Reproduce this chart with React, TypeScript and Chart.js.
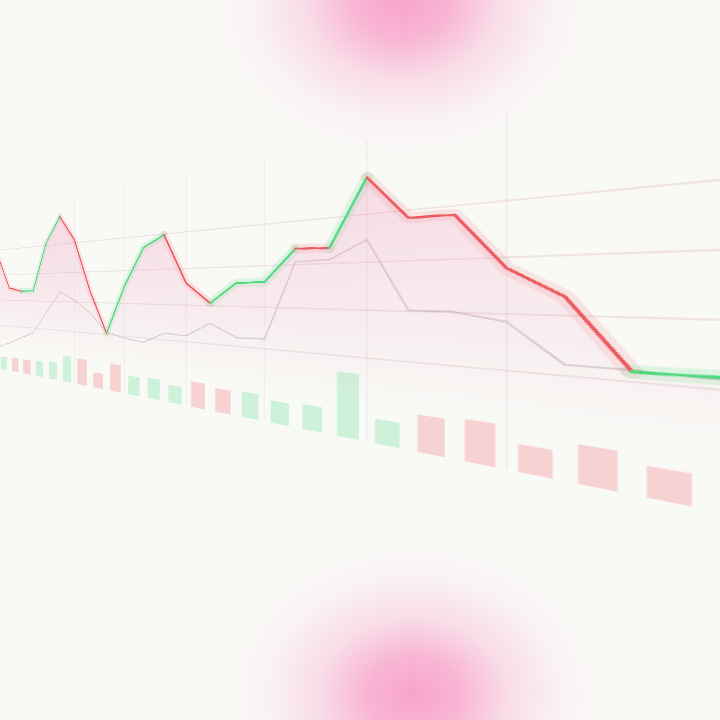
import React, { useEffect, useRef } from 'react';
import { Chart, registerables } from 'chart.js';

Chart.register(...registerables);

// ---- data ----
const pointIndex = [0, 1, 2, 3, 4, 5, 6, 7, 8, 9, 10, 11, 12, 13, 14, 15, 16, 17, 18, 19, 20, 21, 22, 23, 24, 25];
const priceValues = [127.2, 114.8, 113.6, 113.7, 130.9, 139.6, 131.0, 113.8, 100.4, 115.3, 126.6, 129.8, 116.0, 110.7, 115.9, 116.1, 123.7, 123.4, 137.7, 128.5, 128.3, 118.1, 113.1, 101.6, 101.7, 101.9];
const averageValues = [91.2, 93.3, 95.8, 98.2, 105.8, 113.4, 110.7, 106.6, 100.8, 99.4, 98.7, 101.8, 101.7, 105.4, 102.2, 102.3, 120.7, 120.8, 124.7, 110.2, 110.1, 108.6, 101.8, 101.8, 101.5, 101.4];
const volumeSlots = [0.5, 1.5, 2.5, 3.5, 4.5, 5.5, 6.5, 7.5, 8.5, 9.5, 10.5, 11.5, 12.5, 13.5, 14.5, 15.5, 16.5, 17.5, 18.5, 19.5, 20.5, 21.5, 22.5, 23.5];
const volumeValues = [5.0, 5.3, 5.3, 5.7, 6.1, 8.9, 8.6, 4.8, 8.5, 5.7, 6.0, 5.0, 6.9, 6.1, 6.3, 5.3, 5.7, 14.0, 5.1, 7.3, 7.9, 4.9, 6.5, 4.9];
const volumeUp = [true, false, false, true, true, true, false, false, false, true, true, true, false, false, true, true, true, true, true, false, false, false, false, false];
const xGridTicks = [0, 3, 6, 9, 12, 15, 18, 21];
const yGridTicks = [100, 110, 120, 130];

// ---- style / layout ----
const GREEN = '#4fd87e';
const RED = '#ec5960';
const GREEN_GLOW = 'rgba(79,216,126,0.16)';
const RED_GLOW = 'rgba(236,89,96,0.13)';
const GREEN_BAR = 'rgba(80,220,130,0.25)';
const RED_BAR = 'rgba(240,90,95,0.24)';

const FLAT_W = 1000;
const FLAT_H = 378;
const G = 120; // flat px per grid column
const K = 2.4;
const H_TOP = -77.75;
const mA = 32.03 / G;
const mC = -1.594;
const mG = -0.08008 / G;
const mD = -23.14 / G;
const mE = 0.996 / K;
const mF = 289 + 0.996 * H_TOP;
const MATRIX = `matrix3d(${mA},${mD},0,${mG},0,${mE},0,0,0,0,1,0,${mC},${mF},0,1)`;

const BLOB_STOPS =
  'rgba(248,163,202,1) 0%, rgba(248,172,207,0.88) 22%, rgba(249,196,220,0.55) 45%, rgba(250,222,233,0.25) 70%, rgba(249,242,243,0.06) 88%, rgba(249,249,246,0) 100%';
const BACKGROUND = [
  `radial-gradient(ellipse 215px 175px at 402px 0px, ${BLOB_STOPS})`,
  `radial-gradient(ellipse 210px 170px at 413px 695px, ${BLOB_STOPS})`,
  '#f9f9f6',
].join(',');

const segColor = (c: any) => (c.p1.parsed.y >= c.p0.parsed.y ? GREEN : RED);
const segGlow = (c: any) => (c.p1.parsed.y >= c.p0.parsed.y ? GREEN_GLOW : RED_GLOW);

export default function App() {
  const ref = useRef<HTMLCanvasElement>(null);

  useEffect(() => {
    const canvas = ref.current;
    if (!canvas) return;
    const priceData = priceValues.map((v, i) => ({ x: pointIndex[i], y: v }));
    const avgData = averageValues.map((v, i) => ({ x: pointIndex[i], y: v }));
    const volData = volumeValues.map((v, k) => ({ x: volumeSlots[k], y: v }));

    const chart = new Chart(canvas, {
      type: 'line',
      data: {
        datasets: [
          {
            type: 'line',
            data: priceData,
            order: 1,
            borderWidth: 2.8,
            borderColor: GREEN,
            segment: { borderColor: segColor },
            pointRadius: 0,
            tension: 0,
            borderJoinStyle: 'round',
            borderCapStyle: 'round',
            fill: 'start',
            backgroundColor: (ctx: any) => {
              const ch = ctx.chart;
              if (!ch.chartArea) return 'rgba(0,0,0,0)';
              const y0 = ch.scales.y.getPixelForValue(140);
              const y1 = ch.scales.y.getPixelForValue(91);
              const gr = ch.ctx.createLinearGradient(0, y0, 0, y1);
              gr.addColorStop(0, 'rgba(242,150,190,0.32)');
              gr.addColorStop(0.6, 'rgba(242,160,195,0.16)');
              gr.addColorStop(1, 'rgba(242,170,200,0)');
              return gr;
            },
          },
          {
            type: 'line',
            data: priceData,
            order: 2,
            borderWidth: 13,
            borderColor: GREEN_GLOW,
            segment: { borderColor: segGlow },
            pointRadius: 0,
            tension: 0,
            borderJoinStyle: 'round',
            borderCapStyle: 'round',
            fill: false,
          },
          {
            type: 'line',
            data: avgData,
            order: 3,
            borderWidth: 2,
            borderColor: 'rgba(160,145,155,0.38)',
            pointRadius: 0,
            tension: 0,
            fill: false,
          },
          {
            type: 'bar',
            data: volData,
            order: 4,
            yAxisID: 'y2',
            backgroundColor: volumeUp.map((u) => (u ? GREEN_BAR : RED_BAR)),
            borderWidth: 0,
            barPercentage: 0.58,
            categoryPercentage: 1,
          },
        ],
      } as any,
      options: {
        animation: false,
        responsive: false,
        devicePixelRatio: 3,
        events: [],
        layout: { padding: 0, autoPadding: false },
        plugins: { legend: { display: false }, tooltip: { enabled: false } },
        scales: {
          x: {
            type: 'linear',
            min: 0,
            max: 25,
            offset: false,
            afterBuildTicks: (s: any) => {
              s.ticks = xGridTicks.map((value) => ({ value }));
            },
            ticks: { display: false },
            grid: { offset: false, color: 'rgba(120,110,115,0.06)', lineWidth: 2.5, drawTicks: false },
            border: { display: false },
          },
          y: {
            min: 82.5,
            max: 145.5,
            afterBuildTicks: (s: any) => {
              s.ticks = yGridTicks.map((value) => ({ value }));
            },
            ticks: { display: false },
            grid: { offset: false, color: 'rgba(200,140,155,0.2)', lineWidth: 2, drawTicks: false },
            border: { display: false },
          },
          y2: { display: false, min: 0, max: 63 },
        },
      } as any,
    });
    return () => chart.destroy();
  }, []);

  return (
    <div
      style={{
        position: 'fixed',
        left: 0,
        top: 0,
        width: 720,
        height: 720,
        overflow: 'hidden',
        background: BACKGROUND,
      }}
    >
      <div
        style={{
          position: 'absolute',
          left: 0,
          top: 0,
          width: FLAT_W,
          height: FLAT_H,
          transformOrigin: '0 0',
          transform: MATRIX,
        }}
      >
        <canvas ref={ref} width={FLAT_W} height={FLAT_H} style={{ display: 'block', width: FLAT_W, height: FLAT_H }} />
      </div>
    </div>
  );
}
